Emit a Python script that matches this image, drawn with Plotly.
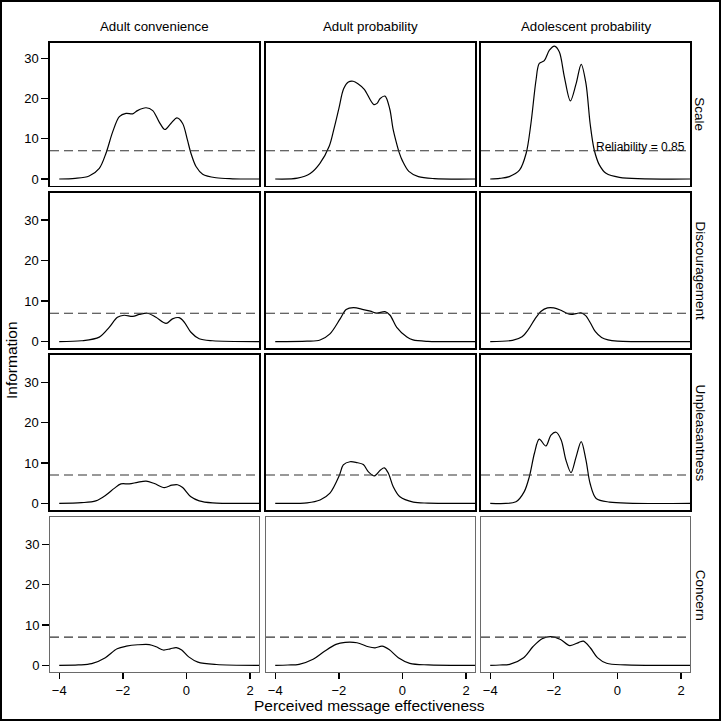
import plotly.graph_objects as go

# ---------------- data ----------------
COLUMNS = ["Adult convenience", "Adult probability", "Adolescent probability"]
ROWS = ["Scale", "Discouragement", "Unpleasantness", "Concern"]
X_TICKS = [-4, -2, 0, 2]
Y_TICKS = [0, 10, 20, 30]
RELIABILITY_INFO = 7
RELIABILITY_LABEL = "Reliability = 0.85"
X_TITLE = "Perceived message effectiveness"
Y_TITLE = "Information"

scale_conv_x = [-4, -3.5, -3.06, -2.74, -2.53, -2.32, -2.11, -1.90, -1.69, -1.54, -1.27, -1.06, -0.86, -0.68, -0.49, -0.30, -0.12, 0.03, 0.14, 0.30, 0.51, 0.93, 1.45, 2.28]
scale_conv_y = [0, 0.15, 0.75, 2.65, 6.4, 11.7, 15.5, 16.3, 16.2, 17.0, 17.7, 17.0, 14.2, 12.3, 13.8, 15.2, 13.8, 9.7, 6.4, 3.1, 1.2, 0.3, 0.05, 0]

scale_prob_x = [-4, -3.3, -2.9, -2.6, -2.3, -2.15, -2.0, -1.85, -1.7, -1.55, -1.4, -1.2, -1.0, -0.9, -0.8, -0.7, -0.55, -0.4, -0.3, -0.2, -0.1, 0, 0.2, 0.5, 1.0, 2.28]
scale_prob_y = [0, 0.2, 1.35, 3.8, 8.2, 12.6, 17.5, 22.4, 24.1, 24.3, 23.7, 22.3, 19.5, 18.5, 18.8, 20.0, 20.6, 17.4, 12.6, 9.3, 6.5, 4.5, 1.9, 0.6, 0.1, 0]

scale_adol_x = [-4, -3.7, -3.4, -3.08, -2.87, -2.72, -2.56, -2.46, -2.30, -2.14, -1.98, -1.83, -1.67, -1.48, -1.30, -1.14, -0.99, -0.86, -0.73, -0.57, -0.36, 0.06, 2.28]
scale_adol_y = [0, 0.15, 0.6, 2.2, 6.4, 13.8, 24.6, 28.7, 29.4, 32.0, 33.0, 31.6, 25.4, 19.4, 23.7, 28.5, 23.7, 13.8, 7.2, 3.5, 1.4, 0.4, 0]

disc_conv_x = [-4, -3.3, -2.74, -2.43, -2.17, -1.96, -1.69, -1.48, -1.22, -0.96, -0.64, -0.44, -0.23, -0.07, 0.14, 0.40, 0.82, 2.28]
disc_conv_y = [0, 0.2, 1.1, 3.5, 6.0, 6.5, 6.2, 6.7, 7.0, 6.0, 4.5, 5.6, 5.9, 4.8, 2.3, 0.7, 0.2, 0]

disc_prob_x = [-4, -3.0, -2.59, -2.28, -1.96, -1.77, -1.54, -1.23, -1.01, -0.81, -0.55, -0.39, -0.18, 0.14, 0.33, 0.8, 2.28]
disc_prob_y = [0, 0.1, 0.4, 1.9, 5.6, 7.9, 8.4, 7.9, 7.5, 7.0, 7.4, 6.5, 3.5, 1.1, 0.4, 0.05, 0]

disc_adol_x = [-4, -3.3, -3.0, -2.8, -2.6, -2.4, -2.2, -2.0, -1.8, -1.6, -1.45, -1.3, -1.15, -1.0, -0.85, -0.7, -0.5, -0.3, 0, 2.28]
disc_adol_y = [0, 0.3, 1.2, 3.0, 5.5, 7.5, 8.3, 8.3, 7.8, 7.0, 6.7, 6.9, 7.1, 6.4, 4.6, 2.5, 1.0, 0.4, 0.1, 0]

unpl_conv_x = [-4, -3.3, -2.85, -2.53, -2.27, -2.06, -1.80, -1.54, -1.27, -1.01, -0.70, -0.46, -0.28, -0.12, 0.14, 0.40, 0.82, 2.28]
unpl_conv_y = [0, 0.15, 0.6, 2.05, 3.7, 4.8, 4.8, 5.2, 5.5, 4.9, 3.9, 4.5, 4.6, 3.9, 1.6, 0.6, 0.1, 0]

unpl_prob_x = [-4, -3.0, -2.59, -2.28, -1.99, -1.86, -1.65, -1.44, -1.23, -1.07, -0.88, -0.70, -0.57, -0.44, -0.29, -0.08, 0.34, 0.8, 2.28]
unpl_prob_y = [0, 0.1, 0.8, 2.5, 6.8, 9.5, 10.3, 10.1, 9.6, 7.8, 6.8, 8.2, 8.8, 7.4, 4.1, 1.6, 0.3, 0.05, 0]

unpl_adol_x = [-4, -3.19, -2.93, -2.77, -2.61, -2.46, -2.25, -2.09, -1.93, -1.77, -1.62, -1.46, -1.30, -1.14, -0.99, -0.86, -0.67, -0.25, 2.28]
unpl_adol_y = [0, 0.4, 2.9, 6.6, 12.4, 15.9, 14.2, 16.9, 17.6, 15.7, 10.7, 7.6, 11.5, 15.3, 10.7, 4.9, 1.2, 0.3, 0]

conc_conv_x = [-4, -3.4, -2.98, -2.55, -2.18, -1.89, -1.53, -1.17, -0.95, -0.73, -0.51, -0.32, -0.15, 0.07, 0.36, 0.94, 2.28]
conc_conv_y = [0, 0.1, 0.4, 1.9, 4.1, 4.75, 5.1, 5.15, 4.6, 3.8, 4.1, 4.4, 3.8, 2.1, 0.8, 0.2, 0]

conc_prob_x = [-4, -3.6, -3.25, -2.81, -2.45, -2.09, -1.80, -1.43, -1.07, -0.86, -0.64, -0.42, -0.13, 0.23, 0.81, 2.28]
conc_prob_y = [0, 0.08, 0.25, 1.5, 3.5, 5.2, 5.7, 5.6, 4.6, 4.35, 4.75, 3.9, 1.9, 0.5, 0.1, 0]

conc_adol_x = [-4, -3.7, -3.39, -2.95, -2.66, -2.37, -2.08, -1.79, -1.50, -1.21, -1.07, -0.85, -0.63, -0.34, 0.24, 2.28]
conc_adol_y = [0, 0.08, 0.25, 1.9, 4.6, 6.6, 7.1, 6.4, 4.9, 5.7, 6.0, 4.3, 1.9, 0.5, 0.1, 0]

PANELS = [
    [(scale_conv_x, scale_conv_y), (scale_prob_x, scale_prob_y), (scale_adol_x, scale_adol_y)],
    [(disc_conv_x, disc_conv_y), (disc_prob_x, disc_prob_y), (disc_adol_x, disc_adol_y)],
    [(unpl_conv_x, unpl_conv_y), (unpl_prob_x, unpl_prob_y), (unpl_adol_x, unpl_adol_y)],
    [(conc_conv_x, conc_conv_y), (conc_prob_x, conc_prob_y), (conc_adol_x, conc_adol_y)],
]

# ---------------- layout geometry (pixels) ----------------
W = H = 721
COL_PX = [(50, 259), (266, 475), (481, 690)]
ROW_PX = [(43, 185.7), (192.7, 348.3), (355, 510), (517.3, 672)]
X_RANGE = [-4.29, 2.28]
Y_RANGES = [[-1.67, 33.8], [-1.66, 36.75], [-1.66, 36.75], [-1.66, 36.75]]
FONT = "Liberation Sans, Arial, Helvetica, sans-serif"

fig = go.Figure()
layout = dict(
    width=W, height=H, margin=dict(l=0, r=0, t=0, b=0),
    paper_bgcolor="white", plot_bgcolor="white", showlegend=False,
    font=dict(family=FONT, size=13, color="black"),
)
shapes = []
annotations = []

for r in range(4):
    for c in range(3):
        k = r * 3 + c + 1
        sfx = "" if k == 1 else str(k)
        xs, ys = PANELS[r][c]
        fig.add_trace(go.Scatter(
            x=xs, y=ys, mode="lines", xaxis="x" + sfx, yaxis="y" + sfx,
            line=dict(color="black", width=1.2, shape="spline", smoothing=0.9),
            hoverinfo="skip",
        ))
        lc = "#6a6a6a" if r == 3 else "black"
        lw = 1.0 if r == 3 else 1.6
        x0, x1 = COL_PX[c]
        y0, y1 = ROW_PX[r]
        layout["xaxis" + sfx] = dict(
            domain=[x0 / W, x1 / W], anchor="y" + sfx, range=X_RANGE,
            tickvals=X_TICKS, showticklabels=(r == 3),
            ticks="outside" if r == 3 else "", ticklen=6, tickwidth=1.3, tickcolor="black",
            tickfont=dict(size=13, family=FONT, color="black"),
            showgrid=False, zeroline=False, showline=True, mirror=True,
            linecolor=lc, linewidth=lw, fixedrange=True,
        )
        layout["yaxis" + sfx] = dict(
            domain=[1 - y1 / H, 1 - y0 / H], anchor="x" + sfx, range=Y_RANGES[r],
            tickvals=Y_TICKS, showticklabels=(c == 0),
            ticks="outside" if c == 0 else "", ticklen=7, tickwidth=1.3, tickcolor="black",
            tickfont=dict(size=13, family=FONT, color="black"),
            showgrid=False, zeroline=False, showline=True, mirror=True,
            linecolor=lc, linewidth=lw, fixedrange=True,
        )
        shapes.append(dict(
            type="line", xref=f"x{sfx} domain", yref="y" + sfx,
            x0=0, x1=1, y0=RELIABILITY_INFO, y1=RELIABILITY_INFO,
            line=dict(color="#333333", width=1.1, dash="9px,5px"), layer="above",
        ))

# column strip titles
for c, name in enumerate(COLUMNS):
    x0, x1 = COL_PX[c]
    annotations.append(dict(
        text=name, xref="paper", yref="paper", x=(x0 + x1) / 2 / W, y=1 - 27 / H,
        showarrow=False, xanchor="center", yanchor="middle",
        font=dict(size=13.3, family=FONT, color="black"),
    ))
# row strip titles
for r, name in enumerate(ROWS):
    y0, y1 = ROW_PX[r]
    annotations.append(dict(
        text=name, xref="paper", yref="paper", x=700 / W, y=1 - (y0 + y1) / 2 / H,
        showarrow=False, xanchor="center", yanchor="middle", textangle=90,
        font=dict(size=13.5, family=FONT, color="black"),
    ))
# axis titles
annotations.append(dict(
    text=X_TITLE, xref="paper", yref="paper", x=369 / W, y=1 - 705.5 / H,
    showarrow=False, xanchor="center", yanchor="middle",
    font=dict(size=15.5, family=FONT, color="black"),
))
annotations.append(dict(
    text=Y_TITLE, xref="paper", yref="paper", x=11 / W, y=1 - 360 / H,
    showarrow=False, xanchor="center", yanchor="middle", textangle=-90,
    font=dict(size=15.5, family=FONT, color="black"),
))
# reliability label
annotations.append(dict(
    text=RELIABILITY_LABEL, xref="x3 domain", yref="y3", x=0.985, y=RELIABILITY_INFO,
    showarrow=False, xanchor="right", yanchor="middle", yshift=4,
    font=dict(size=12, family=FONT, color="black"),
))
# outer frame
shapes.append(dict(type="rect", xref="paper", yref="paper",
                   x0=1 / W, x1=1 - 1 / W, y0=1 / H, y1=1 - 1 / H,
                   line=dict(color="black", width=2)))

layout["shapes"] = shapes
layout["annotations"] = annotations
fig.update_layout(**layout)
fig.write_html(
    "out.html",
    config={"displayModeBar": False, "staticPlot": True},
    post_script="document.body.style.margin='0';document.body.style.overflow='hidden';",
)
